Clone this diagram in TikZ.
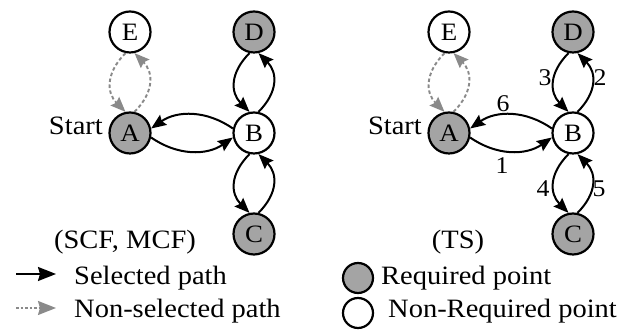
\documentclass[tikz,border=0pt]{standalone}
\usepackage{fontspec}
\setmainfont[FakeStretch=1.075]{Liberation Serif}
\usetikzlibrary{arrows.meta}
\definecolor{reqgray}{HTML}{A4A4A4}
\definecolor{pathgray}{HTML}{8A8A8A}

% one route-selection panel: nodes A..E with their paired, bent connectors
\newcommand\graphpanel[2]{%
  \begin{scope}[shift={(#2,0)}]
    \node[free] (#1E) at (130,304) {E};
    \node[req]  (#1D) at (254,304) {D};
    \node[req]  (#1A) at (130,203) {A};
    \node[free] (#1B) at (254,203) {B};
    \node[req]  (#1C) at (254,102) {C};
    \node[lbl,anchor=base east] (#1start) at (103,201) {Start};
    % A <-> B
    \draw[sel] (#1B.168) to[out=145,in=35] (#1A.12);
    \draw[sel] (#1A.-12) to[out=-35,in=215] (#1B.192);
    % B <-> D
    \draw[sel] (#1D.258) to[out=225,in=135,looseness=1.2] (#1B.102);
    \draw[sel] (#1B.78) to[out=45,in=-45,looseness=1.2] (#1D.282);
    % B <-> C
    \draw[sel] (#1B.258) to[out=225,in=135,looseness=1.2] (#1C.102);
    \draw[sel] (#1C.78) to[out=45,in=-45,looseness=1.2] (#1B.282);
    % A <-> E (not taken)
    \draw[nsel] (#1E.258) to[out=225,in=135,looseness=1.2] (#1A.102);
    \draw[nsel] (#1A.78) to[out=45,in=-45,looseness=1.2] (#1E.282);
  \end{scope}}

\begin{document}
\begin{tikzpicture}[x=1pt,y=1pt,
  pt/.style={circle,draw=black,line width=2.2pt,minimum size=41pt,inner sep=0pt,
    font=\fontsize{25}{25}\selectfont},
  req/.style={pt,fill=reqgray},
  free/.style={pt,fill=white},
  tip/.style={-{Stealth[length=15pt,width=12pt,inset=2pt]}},
  sel/.style={draw=black,line width=2pt,tip},
  nsel/.style={draw=pathgray,line width=1.9pt,dash pattern=on 3.5pt off 2.5pt,tip},
  lbl/.style={font=\fontsize{26.5}{26.5}\selectfont,inner sep=0pt},
  num/.style={font=\fontsize{24}{24}\selectfont,inner sep=0pt},
  key/.style={circle,draw=black,line width=2.2pt,minimum size=30pt,inner sep=0pt},
]
\useasboundingbox (0,0) rectangle (628,336);

\graphpanel{L}{0}
\graphpanel{R}{319}

% visiting order of the tour
\node[num] (n6) at (503,232) {6};
\node[num] (n1) at (502,170) {1};
\node[num] (n3) at (545,258) {3};
\node[num] (n2) at (600,258) {2};
\node[num] (n4) at (543,147) {4};
\node[num] (n5) at (599,147) {5};

% panel captions
\node[lbl,anchor=base] (capL) at (125,87) {(SCF, MCF)};
\node[lbl,anchor=base] (capR) at (458,87) {(TS)};

% legend
\coordinate (k1a) at (16,62);
\coordinate (k1b) at (56,62);
\coordinate (k2a) at (16,28);
\coordinate (k2b) at (56,28);
\draw[line width=2pt,-{Stealth[length=18pt,width=14pt,inset=2pt]}] (k1a) -- (k1b);
\draw[draw=pathgray,line width=1.6pt,dash pattern=on 2.5pt off 2pt,
      -{Stealth[length=18pt,width=14pt,inset=2pt]}] (k2a) -- (k2b);
\node[lbl,anchor=base west] (t1) at (74,51) {Selected path};
\node[lbl,anchor=base west] (t2) at (74,18) {Non-selected path};
\node[key,fill=reqgray] (c1) at (358,58) {};
\node[key,fill=white] (c2) at (358,23) {};
\node[lbl,anchor=base west] (t3) at (381,51) {Required point};
\node[lbl,anchor=base west] (t4) at (388,18) {Non-Required point};
\end{tikzpicture}
\end{document}
